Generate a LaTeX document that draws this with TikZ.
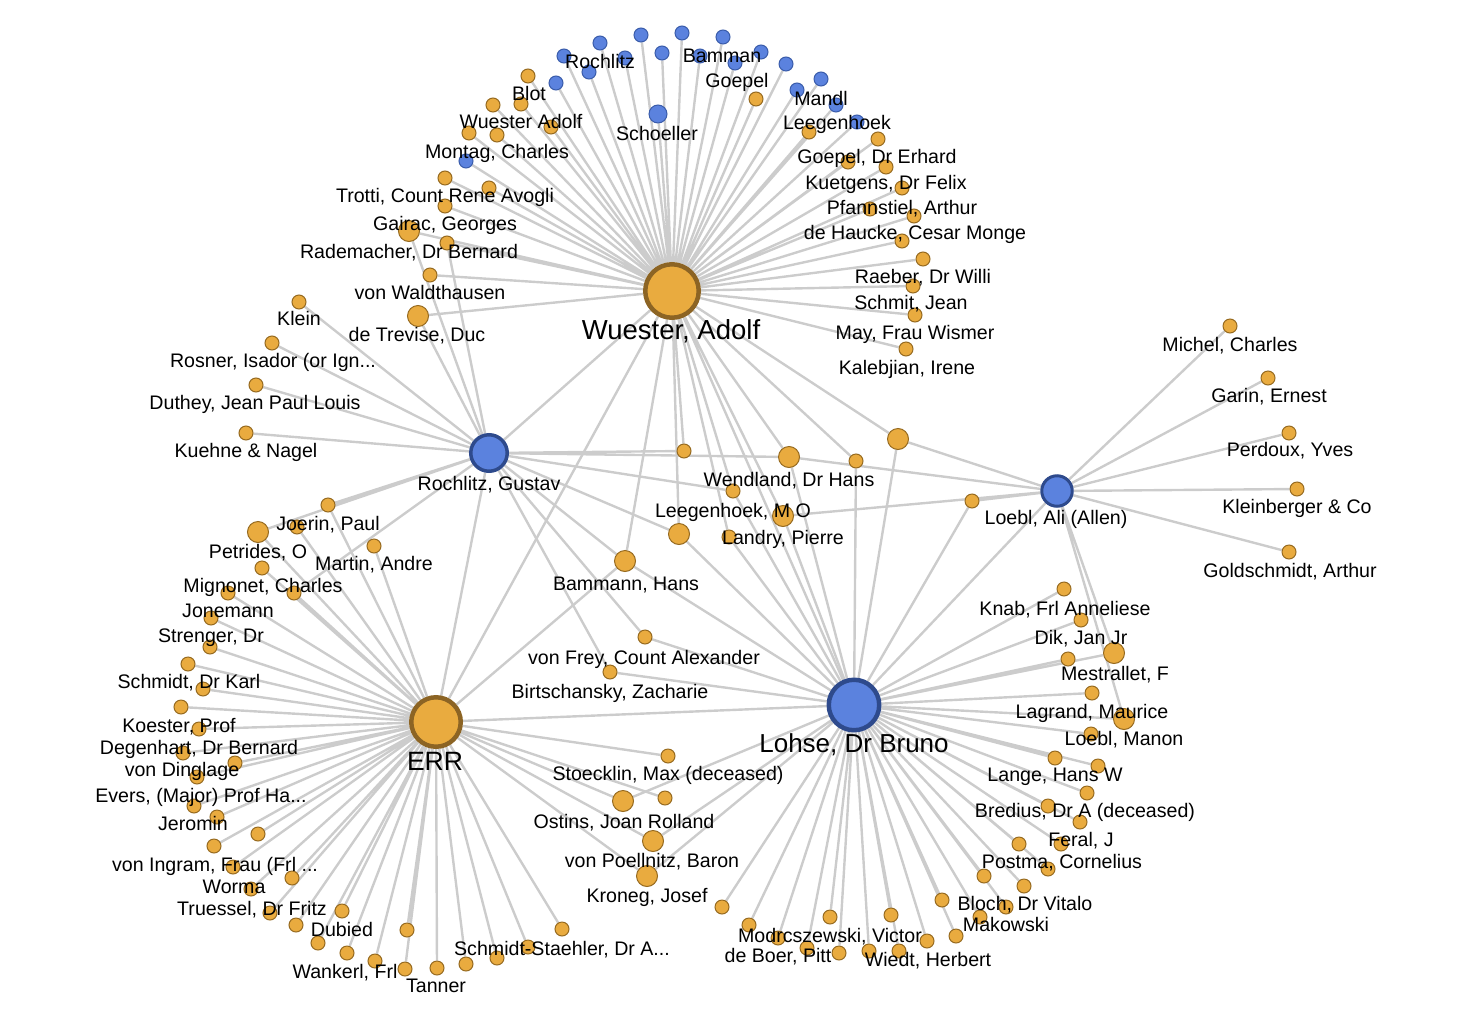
\documentclass[tikz,border=0pt]{standalone}
\usepackage{fontspec}
\setmainfont{Liberation Sans}
\usetikzlibrary{backgrounds}

\definecolor{nodeorange}{RGB}{233,171,63}
\definecolor{nodeorangeline}{RGB}{150,106,32}
\definecolor{huborangeline}{RGB}{140,100,36}
\definecolor{nodeblue}{RGB}{91,130,222}
\definecolor{nodeblueline}{RGB}{58,92,170}
\definecolor{hubblueline}{RGB}{46,74,140}
\definecolor{linkgray}{RGB}{204,204,204}

\tikzset{every picture/.style={line width=0.75pt}}
\tikzset{
  link/.style={draw=linkgray, line width=2.4},
  orn/.style={circle, inner sep=0, minimum size=14, fill=nodeorange, draw=nodeorangeline, line width=1},
  ornmid/.style={orn, minimum size=21},
  blu/.style={circle, inner sep=0, minimum size=14, fill=nodeblue, draw=nodeblueline, line width=1},
  blumid/.style={blu, minimum size=18},
  lbl/.style={inner sep=0, anchor=base, font=\fontsize{19.6}{22}\selectfont},
  hublbl/.style={inner sep=0, anchor=base, font=\fontsize{26.5}{30}\selectfont},
}

\begin{document}
\begin{tikzpicture}[x=1pt,y=1pt,yscale=-1]
	\useasboundingbox (0,0) rectangle (1472,1020);

	%Hubs
	\node[circle, inner sep=0, minimum size=53.5, fill=nodeorange, draw=huborangeline, line width=4.5] (wuester) at (672,291) {};
	\node[circle, inner sep=0, minimum size=36.5, fill=nodeblue, draw=hubblueline, line width=3.5] (rochlitz) at (489,453) {};
	\node[circle, inner sep=0, minimum size=30.5, fill=nodeblue, draw=hubblueline, line width=3] (loebl) at (1057,491) {};
	\node[circle, inner sep=0, minimum size=49.5, fill=nodeorange, draw=huborangeline, line width=4.5] (err) at (436,722) {};
	\node[circle, inner sep=0, minimum size=50.5, fill=nodeblue, draw=hubblueline, line width=4.5] (lohse) at (854,705) {};

	%Wuester, top arc
	\node[blu] (w1) at (466,161) {};
	\node[orn] (w2) at (469,133) {};
	\node[orn] (montag) at (497,135) {};
	\node[orn] (w3) at (493,105) {};
	\node[orn] (wadolf) at (521,104) {};
	\node[orn] (w4) at (551,127) {};
	\node[orn] (blot) at (528,76) {};
	\node[blu] (w5) at (556,83) {};
	\node[blu] (w6) at (564,56) {};
	\node[blu] (w7) at (589,72) {};
	\node[blu] (rochlitzb) at (600,43) {};
	\node[blu] (w8) at (625,58) {};
	\node[blu] (w9) at (641,35) {};
	\node[blu] (w10) at (662,53) {};
	\node[blumid] (schoeller) at (658,114) {};
	\node[blu] (w11) at (682,33) {};
	\node[blu] (w12) at (700,56) {};
	\node[blu] (bamman) at (723,37) {};
	\node[blu] (goepel) at (735,63) {};
	\node[blu] (w13) at (761,52) {};
	\node[orn] (w14) at (756,99) {};
	\node[blu] (w15) at (786,64) {};
	\node[blu] (w16) at (797,90) {};
	\node[blu] (mandl) at (821,79) {};
	\node[blu] (leegenhoek) at (836,105) {};
	\node[blu] (w17) at (857,122) {};
	\node[orn] (w18) at (809,132) {};
	\node[orn] (goepelE) at (878,139) {};
	\node[orn] (w19) at (848,162) {};
	\node[orn] (kuetgens) at (886,167) {};
	\node[orn] (pfannstiel) at (902,188) {};
	\node[orn] (w20) at (870,209) {};
	\node[orn] (haucke) at (914,216) {};
	\node[orn] (w21) at (902,241) {};
	\node[orn] (raeber) at (923,259) {};
	\node[orn] (schmit) at (913,286) {};
	\node[orn] (may) at (915,315) {};
	\node[orn] (kalebjian) at (906,349) {};
	\node[orn] (trotti) at (445,178) {};
	\node[orn] (w22) at (489,188) {};
	\node[orn] (gairac) at (445,206) {};
	\node[ornmid] (rademacher) at (409,231) {};
	\node[orn] (w23) at (447,243) {};
	\node[orn] (waldthausen) at (430,275) {};
	\node[ornmid] (trevise) at (418,316) {};

	%Rochlitz, left
	\node[orn] (klein) at (299,302) {};
	\node[orn] (rosner) at (272,343) {};
	\node[orn] (duthey) at (256,385) {};
	\node[orn] (kuehne) at (246,433) {};

	%Middle
	\node[orn] (m1) at (684,451) {};
	\node[ornmid] (wendland) at (789,457) {};
	\node[orn] (m2) at (856,461) {};
	\node[ornmid] (m3) at (898,439) {};
	\node[orn] (m4) at (972,501) {};
	\node[orn] (leegenhoekmo) at (733,491) {};
	\node[ornmid] (landry) at (783,516) {};
	\node[orn] (m5) at (729,537) {};
	\node[ornmid] (m6) at (679,534) {};
	\node[ornmid] (bammann) at (625,561) {};
	\node[orn] (frey) at (645,637) {};
	\node[orn] (birtschansky) at (610,672) {};

	%Loebl, right
	\node[orn] (michel) at (1230,326) {};
	\node[orn] (garin) at (1268,378) {};
	\node[orn] (perdoux) at (1289,433) {};
	\node[orn] (kleinberger) at (1297,489) {};
	\node[orn] (goldschmidt) at (1289,552) {};

	%ERR, left and bottom
	\node[orn] (joerin) at (328,505) {};
	\node[orn] (e1) at (297,527) {};
	\node[ornmid] (petrides) at (258,532) {};
	\node[orn] (martin) at (374,546) {};
	\node[orn] (mignonet) at (262,568) {};
	\node[orn] (jonemann) at (228,593) {};
	\node[orn] (e2) at (294,593) {};
	\node[orn] (strenger) at (211,618) {};
	\node[orn] (e3) at (210,647) {};
	\node[orn] (schmidtK) at (188,664) {};
	\node[orn] (e4) at (203,689) {};
	\node[orn] (koester) at (181,707) {};
	\node[orn] (degenhart) at (199,729) {};
	\node[orn] (dinglage) at (183,753) {};
	\node[orn] (e5) at (235,763) {};
	\node[orn] (evers) at (197,777) {};
	\node[orn] (jeromin) at (194,806) {};
	\node[orn] (e6) at (217,817) {};
	\node[orn] (e7) at (258,834) {};
	\node[orn] (ingram) at (214,846) {};
	\node[orn] (worma) at (233,867) {};
	\node[orn] (e8) at (292,878) {};
	\node[orn] (truessel) at (251,889) {};
	\node[orn] (e9) at (270,913) {};
	\node[orn] (dubied) at (342,911) {};
	\node[orn] (e10) at (296,925) {};
	\node[orn] (e11) at (318,943) {};
	\node[orn] (wankerl) at (347,953) {};
	\node[orn] (e12) at (375,961) {};
	\node[orn] (e13) at (407,930) {};
	\node[orn] (e14) at (405,969) {};
	\node[orn] (tanner) at (437,968) {};
	\node[orn] (e15) at (466,964) {};
	\node[orn] (e16) at (497,958) {};
	\node[orn] (e17) at (528,947) {};
	\node[orn] (staehler) at (562,929) {};
	\node[orn] (stoecklin) at (668,756) {};
	\node[orn] (e18) at (665,798) {};
	\node[ornmid] (ostins) at (623,801) {};
	\node[ornmid] (poellnitz) at (653,841) {};
	\node[ornmid] (kroneg) at (647,876) {};

	%Lohse, right and bottom
	\node[orn] (knab) at (1064,589) {};
	\node[orn] (dik) at (1081,620) {};
	\node[ornmid] (mestrallet) at (1114,653) {};
	\node[orn] (b1) at (1068,659) {};
	\node[orn] (lagrand) at (1092,693) {};
	\node[ornmid] (manon) at (1124,719) {};
	\node[orn] (b2) at (1091,734) {};
	\node[orn] (lange) at (1055,758) {};
	\node[orn] (b3) at (1098,766) {};
	\node[orn] (bredius) at (1087,793) {};
	\node[orn] (b4) at (1048,806) {};
	\node[orn] (feral) at (1080,822) {};
	\node[orn] (b5) at (1019,844) {};
	\node[orn] (postma) at (1061,844) {};
	\node[orn] (b6) at (1048,869) {};
	\node[orn] (b7) at (984,876) {};
	\node[orn] (bloch) at (1024,886) {};
	\node[orn] (b8) at (942,900) {};
	\node[orn] (makowski) at (1006,907) {};
	\node[orn] (b9) at (980,917) {};
	\node[orn] (b10) at (956,936) {};
	\node[orn] (wiedt) at (927,941) {};
	\node[orn] (b11) at (899,951) {};
	\node[orn] (b12) at (891,915) {};
	\node[orn] (b13) at (869,951) {};
	\node[orn] (b14) at (839,953) {};
	\node[orn] (modrcszewski) at (830,917) {};
	\node[orn] (b15) at (807,948) {};
	\node[orn] (deboer) at (778,938) {};
	\node[orn] (b16) at (749,925) {};
	\node[orn] (b17) at (722,907) {};

	%Links
	\begin{pgfonlayer}{background}
	\path[link] (wuester) -- (w1) (wuester) -- (w2) (wuester) -- (montag) (wuester) -- (w3) (wuester) -- (wadolf)
		(wuester) -- (w4) (wuester) -- (blot) (wuester) -- (w5) (wuester) -- (w6) (wuester) -- (w7)
		(wuester) -- (rochlitzb) (wuester) -- (w8) (wuester) -- (w9) (wuester) -- (w10) (wuester) -- (schoeller)
		(wuester) -- (w11) (wuester) -- (w12) (wuester) -- (bamman) (wuester) -- (goepel) (wuester) -- (w13)
		(wuester) -- (w14) (wuester) -- (w15) (wuester) -- (w16) (wuester) -- (mandl) (wuester) -- (leegenhoek)
		(wuester) -- (w17) (wuester) -- (w18) (wuester) -- (goepelE) (wuester) -- (w19) (wuester) -- (kuetgens)
		(wuester) -- (pfannstiel) (wuester) -- (w20) (wuester) -- (haucke) (wuester) -- (w21) (wuester) -- (raeber)
		(wuester) -- (schmit) (wuester) -- (may) (wuester) -- (kalebjian) (wuester) -- (trotti) (wuester) -- (w22)
		(wuester) -- (gairac) (wuester) -- (rademacher) (wuester) -- (w23) (wuester) -- (waldthausen) (wuester) -- (trevise)
		(wuester) -- (rochlitz) (wuester) -- (err) (wuester) -- (lohse) (wuester) -- (bammann) (wuester) -- (m6)
		(wuester) -- (leegenhoekmo) (wuester) -- (m5) (wuester) -- (landry) (wuester) -- (wendland) (wuester) -- (m2)
		(wuester) -- (m3) (wuester) -- (m1);
	\path[link] (rochlitz) -- (klein) (rochlitz) -- (rosner) (rochlitz) -- (duthey) (rochlitz) -- (kuehne)
		(rochlitz) -- (rademacher) (rochlitz) -- (w23) (rochlitz) -- (trevise) (rochlitz) -- (joerin) (rochlitz) -- (petrides)
		(rochlitz) -- (e2) (rochlitz) -- (m1) (rochlitz) -- (wendland) (rochlitz) -- (leegenhoekmo) (rochlitz) -- (m6)
		(rochlitz) -- (bammann) (rochlitz) -- (frey) (rochlitz) -- (birtschansky) (rochlitz) -- (err);
	\path[link] (loebl) -- (michel) (loebl) -- (garin) (loebl) -- (perdoux) (loebl) -- (kleinberger) (loebl) -- (goldschmidt)
		(loebl) -- (mestrallet) (loebl) -- (manon) (loebl) -- (lohse) (loebl) -- (wendland) (loebl) -- (m3)
		(loebl) -- (m4) (loebl) -- (landry);
	\path[link] (err) -- (joerin) (err) -- (e1) (err) -- (petrides) (err) -- (martin) (err) -- (mignonet)
		(err) -- (jonemann) (err) -- (e2) (err) -- (strenger) (err) -- (e3) (err) -- (schmidtK)
		(err) -- (e4) (err) -- (koester) (err) -- (degenhart) (err) -- (dinglage) (err) -- (e5)
		(err) -- (evers) (err) -- (jeromin) (err) -- (e6) (err) -- (e7) (err) -- (ingram)
		(err) -- (worma) (err) -- (e8) (err) -- (truessel) (err) -- (e9) (err) -- (dubied)
		(err) -- (e10) (err) -- (e11) (err) -- (wankerl) (err) -- (e12) (err) -- (e13)
		(err) -- (e14) (err) -- (tanner) (err) -- (e15) (err) -- (e16) (err) -- (e17)
		(err) -- (staehler) (err) -- (stoecklin) (err) -- (e18) (err) -- (ostins) (err) -- (poellnitz)
		(err) -- (kroneg) (err) -- (lohse) (err) -- (bammann);
	\path[link] (lohse) -- (knab) (lohse) -- (dik) (lohse) -- (mestrallet) (lohse) -- (b1) (lohse) -- (lagrand)
		(lohse) -- (manon) (lohse) -- (b2) (lohse) -- (lange) (lohse) -- (b3) (lohse) -- (bredius)
		(lohse) -- (b4) (lohse) -- (feral) (lohse) -- (b5) (lohse) -- (postma) (lohse) -- (b6)
		(lohse) -- (b7) (lohse) -- (bloch) (lohse) -- (b8) (lohse) -- (makowski) (lohse) -- (b9)
		(lohse) -- (b10) (lohse) -- (wiedt) (lohse) -- (b11) (lohse) -- (b12) (lohse) -- (b13)
		(lohse) -- (b14) (lohse) -- (modrcszewski) (lohse) -- (b15) (lohse) -- (deboer) (lohse) -- (b16)
		(lohse) -- (b17) (lohse) -- (ostins) (lohse) -- (poellnitz) (lohse) -- (kroneg) (lohse) -- (frey)
		(lohse) -- (birtschansky) (lohse) -- (bammann) (lohse) -- (m6) (lohse) -- (leegenhoekmo) (lohse) -- (m5)
		(lohse) -- (landry) (lohse) -- (wendland) (lohse) -- (m2) (lohse) -- (m3) (lohse) -- (m4);
	\end{pgfonlayer}

	% Text Node
	\node[hublbl, font=\fontsize{27.5}{30}\selectfont] (twuester) at (671,339) {Wuester, Adolf};
	\node[hublbl] (terr) at (435,770) {ERR};
	\node[hublbl, font=\fontsize{26}{30}\selectfont] (tlohse) at (854,752) {Lohse, Dr Bruno};
	\node[lbl] (trochlitz) at (489,490) {Rochlitz, Gustav};
	\node[lbl] (tloebl) at (1056,524) {Loebl, Ali (Allen)};
	% Text Node
	\node[lbl] at (600,68) {Rochlitz};
	\node[lbl] at (722,62) {Bamman};
	\node[lbl] at (737,87) {Goepel};
	\node[lbl] at (821,105) {Mandl};
	\node[lbl] at (837,129) {Leegenhoek};
	\node[lbl] at (657,140) {Schoeller};
	\node[lbl] at (529,100) {Blot};
	\node[lbl] at (521,128) {Wuester Adolf};
	\node[lbl] at (497,158) {Montag, Charles};
	\node[lbl] at (445,202) {Trotti, Count Rene Avogli};
	\node[lbl] at (445,230) {Gairac, Georges};
	\node[lbl] at (409,258) {Rademacher, Dr Bernard};
	\node[lbl] at (430,299) {von Waldthausen};
	\node[lbl] at (417,341) {de Trevise, Duc};
	\node[lbl] at (299,325) {Klein};
	\node[lbl] at (273,367) {Rosner, Isador (or Ign...};
	\node[lbl] at (255,409) {Duthey, Jean Paul Louis};
	\node[lbl] at (246,457) {Kuehne \& Nagel};
	% Text Node
	\node[lbl] at (877,163) {Goepel, Dr Erhard};
	\node[lbl] at (886,189) {Kuetgens, Dr Felix};
	\node[lbl] at (902,214) {Pfannstiel, Arthur};
	\node[lbl] at (915,239) {de Haucke, Cesar Monge};
	\node[lbl] at (923,283) {Raeber, Dr Willi};
	\node[lbl] at (911,309) {Schmit, Jean};
	\node[lbl] at (915,339) {May, Frau Wismer};
	\node[lbl] at (907,374) {Kalebjian, Irene};
	% Text Node
	\node[lbl] at (1230,351) {Michel, Charles};
	\node[lbl] at (1269,402) {Garin, Ernest};
	\node[lbl] at (1290,456) {Perdoux, Yves};
	\node[lbl] at (1297,513) {Kleinberger \& Co};
	\node[lbl] at (1290,577) {Goldschmidt, Arthur};
	% Text Node
	\node[lbl] at (789,486) {Wendland, Dr Hans};
	\node[lbl] at (733,517) {Leegenhoek, M O};
	\node[lbl] at (783,544) {Landry, Pierre};
	\node[lbl] at (626,590) {Bammann, Hans};
	\node[lbl] at (644,664) {von Frey, Count Alexander};
	\node[lbl] at (610,698) {Birtschansky, Zacharie};
	% Text Node
	\node[lbl] at (328,530) {Joerin, Paul};
	\node[lbl] at (258,558) {Petrides, O};
	\node[lbl] at (374,570) {Martin, Andre};
	\node[lbl] at (263,592) {Mignonet, Charles};
	\node[lbl] at (228,617) {Jonemann};
	\node[lbl] at (211,642) {Strenger, Dr};
	\node[lbl] at (189,688) {Schmidt, Dr Karl};
	\node[lbl] at (179,732) {Koester, Prof};
	\node[lbl] at (199,754) {Degenhart, Dr Bernard};
	\node[lbl] at (182,776) {von Dinglage};
	\node[lbl] at (201,802) {Evers, (Major) Prof Ha...};
	\node[lbl] at (193,830) {Jeromin};
	\node[lbl] at (215,871) {von Ingram, Frau (Frl ...};
	\node[lbl] at (234,893) {Worma};
	\node[lbl] at (252,915) {Truessel, Dr Fritz};
	\node[lbl] at (342,936) {Dubied};
	\node[lbl] at (345,978) {Wankerl, Frl};
	\node[lbl] at (436,992) {Tanner};
	\node[lbl] at (562,955) {Schmidt-Staehler, Dr A...};
	\node[lbl] at (668,780) {Stoecklin, Max (deceased)};
	\node[lbl] at (624,828) {Ostins, Joan Rolland};
	\node[lbl] at (652,867) {von Poellnitz, Baron};
	\node[lbl] at (647,902) {Kroneg, Josef};
	% Text Node
	\node[lbl] at (830,942) {Modrcszewski, Victor};
	\node[lbl] at (778,962) {de Boer, Pitt};
	\node[lbl] at (928,966) {Wiedt, Herbert};
	\node[lbl] at (1006,931) {Makowski};
	\node[lbl] at (1025,910) {Bloch, Dr Vitalo};
	\node[lbl] at (1062,868) {Postma, Cornelius};
	\node[lbl] at (1081,846) {Feral, J};
	\node[lbl] at (1085,817) {Bredius, Dr A (deceased)};
	\node[lbl] at (1055,781) {Lange, Hans W};
	\node[lbl] at (1124,745) {Loebl, Manon};
	\node[lbl] at (1092,718) {Lagrand, Maurice};
	\node[lbl] at (1115,680) {Mestrallet, F};
	\node[lbl] at (1081,644) {Dik, Jan Jr};
	\node[lbl] at (1065,615) {Knab, Frl Anneliese};
\end{tikzpicture}
\end{document}
